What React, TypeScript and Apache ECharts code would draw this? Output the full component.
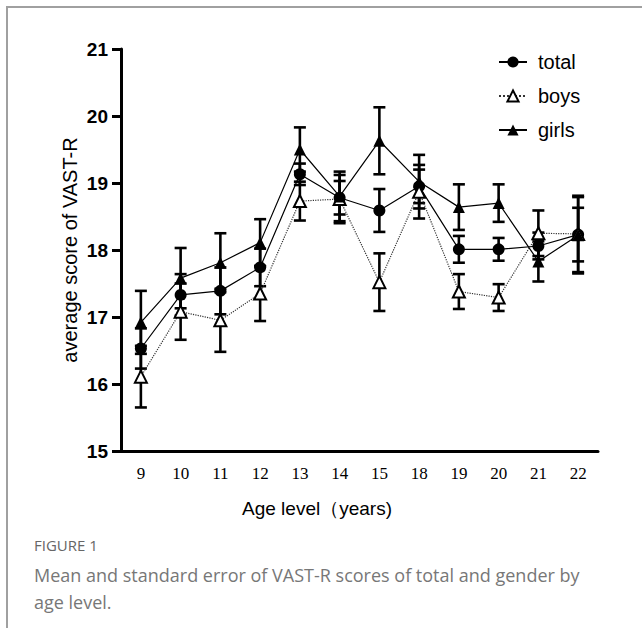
import React, { useEffect, useRef } from "react";
import * as echarts from "echarts";

const ages = ["9", "10", "11", "12", "13", "14", "15", "18", "19", "20", "21", "22"];
const total = [16.53, 17.33, 17.39, 17.74, 19.13, 18.78, 18.59, 18.95, 18.01, 18.01, 18.06, 18.23];
const totalSE = [0.3, 0.31, 0.35, 0.28, 0.16, 0.25, 0.32, 0.25, 0.2, 0.17, 0.2, 0.4];
const boys = [16.11, 17.08, 16.95, 17.35, 18.73, 18.76, 17.52, 18.87, 17.38, 17.29, 18.25, 18.24];
const boysSE = [0.46, 0.42, 0.47, 0.41, 0.29, 0.36, 0.43, 0.4, 0.26, 0.2, 0.34, 0.57];
const girls = [16.92, 17.58, 17.81, 18.11, 19.5, 18.8, 19.63, 19.02, 18.64, 18.7, 17.83, 18.22];
const girlsSE = [0.47, 0.45, 0.44, 0.35, 0.33, 0.37, 0.5, 0.4, 0.34, 0.28, 0.3, 0.57];
const yTicks = [15, 16, 17, 18, 19, 20, 21];

const SANS = "'Liberation Sans', Arial, sans-serif";
const CAP = "'Open Sans', sans-serif";

function errSeries(vals: number[], se: number[]) {
  return {
    type: "custom",
    z: 1,
    silent: true,
    encode: { x: 0, y: [1, 2] },
    data: vals.map((v, i) => [i, v - se[i], v + se[i]]),
    renderItem: (params: any, api: any) => {
      const x = api.value(0);
      const p1 = api.coord([x, api.value(2)]);
      const p2 = api.coord([x, api.value(1)]);
      const w = 6;
      const st = { stroke: "#000", lineWidth: 2.6 };
      return {
        type: "group",
        children: [
          { type: "line", shape: { x1: p1[0], y1: p1[1], x2: p2[0], y2: p2[1] }, style: st },
          { type: "line", shape: { x1: p1[0] - w, y1: p1[1], x2: p1[0] + w, y2: p1[1] }, style: st },
          { type: "line", shape: { x1: p2[0] - w, y1: p2[1], x2: p2[0] + w, y2: p2[1] }, style: st },
        ],
      };
    },
  };
}

export default function App() {
  const ref = useRef<HTMLDivElement>(null);
  useEffect(() => {
    if (!ref.current) return;
    const chart = echarts.init(ref.current, null, { renderer: "svg" });
    chart.setOption({
      animation: false,
      backgroundColor: "#fff",
      grid: { left: 121, right: 44, top: 49, bottom: 177, containLabel: false },
      legend: {
        data: ["total", "boys", "girls"],
        orient: "vertical",
        left: 493,
        top: 47,
        itemWidth: 28,
        itemHeight: 14,
        itemGap: 14,
        textStyle: { fontSize: 20, fontFamily: SANS, color: "#000", padding: [0, 0, 0, 6] },
      },
      xAxis: {
        type: "category",
        data: ages,
        boundaryGap: true,
        axisLine: { lineStyle: { color: "#000", width: 3 } },
        axisTick: { alignWithLabel: true, length: 10, lineStyle: { color: "#000", width: 3 } },
        axisLabel: { fontSize: 17, fontFamily: "'Liberation Serif', 'Times New Roman', serif", color: "#000", margin: 14 },
        splitLine: { show: false },
      },
      yAxis: {
        type: "value",
        min: yTicks[0],
        max: yTicks[yTicks.length - 1],
        interval: 1,
        axisLine: { show: true, lineStyle: { color: "#000", width: 3 } },
        axisTick: { show: true, length: 9, lineStyle: { color: "#000", width: 3 } },
        axisLabel: { fontSize: 19, fontWeight: "bold", fontFamily: SANS, color: "#000", margin: 13 },
        splitLine: { show: false },
      },
      graphic: [
        {
          type: "polyline",
          shape: { points: [[7, 628], [7, 7], [642, 7]] },
          style: { stroke: "#a0a0a0", lineWidth: 2, fill: "none" },
        },
        {
          type: "text",
          x: 70,
          y: 250,
          rotation: Math.PI / 2,
          style: { text: "average score of VAST-R", fontSize: 20, fontFamily: SANS, fill: "#000", textAlign: "center", textVerticalAlign: "middle" },
        },
        {
          type: "text",
          x: 317,
          y: 508,
          style: { text: "Age level（years)", fontSize: 19, fontFamily: SANS, fill: "#000", textAlign: "center", textVerticalAlign: "middle" },
        },
        {
          type: "text",
          x: 34,
          y: 545,
          style: { text: "FIGURE 1", fontSize: 15, fontFamily: CAP, fill: "#666", textAlign: "left", textVerticalAlign: "middle" },
        },
        {
          type: "text",
          x: 34,
          y: 575,
          style: { text: "Mean and standard error of VAST-R scores of total and gender by", fontSize: 18, fontFamily: CAP, fill: "#777", textAlign: "left", textVerticalAlign: "middle" },
        },
        {
          type: "text",
          x: 34,
          y: 602,
          style: { text: "age level.", fontSize: 18, fontFamily: CAP, fill: "#777", textAlign: "left", textVerticalAlign: "middle" },
        },
      ],
      series: [
        errSeries(total, totalSE),
        errSeries(boys, boysSE),
        errSeries(girls, girlsSE),
        {
          name: "total",
          type: "line",
          z: 3,
          data: total,
          symbol: "circle",
          symbolSize: 12,
          lineStyle: { color: "#000", width: 1.2 },
          itemStyle: { color: "#000" },
        },
        {
          name: "boys",
          type: "line",
          z: 3,
          data: boys,
          symbol: "triangle",
          symbolSize: 12,
          lineStyle: { color: "#333", width: 1.2, type: "dotted" },
          itemStyle: { color: "#fff", borderColor: "#000", borderWidth: 2 },
        },
        {
          name: "girls",
          type: "line",
          z: 3,
          data: girls,
          symbol: "triangle",
          symbolSize: 12,
          lineStyle: { color: "#000", width: 1.2 },
          itemStyle: { color: "#000" },
        },
      ],
    });
    return () => chart.dispose();
  }, []);
  return (
    <div
      ref={ref}
      style={{ position: "absolute", left: 0, top: 0, width: 642, height: 628 }}
    />
  );
}
